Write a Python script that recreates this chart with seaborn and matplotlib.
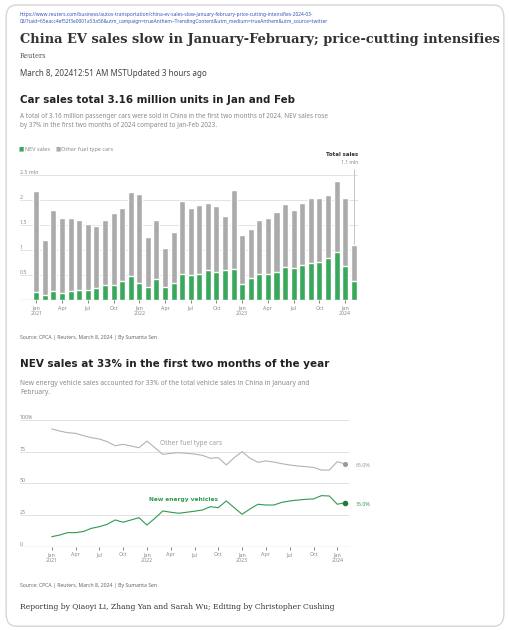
import numpy as np
import pandas as pd
import seaborn as sns
import matplotlib.pyplot as plt
from matplotlib.patches import FancyBboxPatch

# monthly passenger car sales, Jan 2021 - Feb 2024 (mln units)
months = pd.date_range("2021-01-01", "2024-02-01", freq="MS").strftime("%Y-%m").tolist()
total_sales = [2.19, 1.20, 1.80, 1.65, 1.65, 1.60, 1.52, 1.49, 1.60, 1.75, 1.85, 2.17,
               2.13, 1.27, 1.61, 1.05, 1.37, 1.99, 1.85, 1.91, 1.95, 1.88, 1.68, 2.20,
               1.30, 1.43, 1.61, 1.65, 1.77, 1.93, 1.80, 1.95, 2.05, 2.05, 2.11, 2.39,
               2.05, 1.10]
nev_sales = [0.17, 0.10, 0.19, 0.15, 0.19, 0.21, 0.21, 0.25, 0.31, 0.31, 0.38, 0.48,
             0.35, 0.27, 0.43, 0.27, 0.35, 0.52, 0.50, 0.52, 0.60, 0.57, 0.60, 0.63,
             0.32, 0.45, 0.53, 0.53, 0.57, 0.67, 0.65, 0.71, 0.75, 0.77, 0.85, 0.97,
             0.68, 0.39]

# share of total sales (%)
nev_share = [7.9, 9.2, 11.1, 11.1, 12.0, 14.5, 15.8, 17.7, 21.1, 19.3, 21.1, 22.9,
             17.1, 22.4, 28.2, 27.2, 26.4, 27.2, 28.0, 29.0, 31.6, 30.8, 36.1, 30.8,
             25.6, 29.8, 33.5, 32.9, 32.9, 35.0, 36.1, 36.8, 37.4, 37.7, 40.3, 40.0,
             33.5, 34.8]
other_share = [92.9, 91.3, 90.0, 89.5, 87.6, 86.0, 85.0, 82.9, 79.7, 80.8, 79.5, 78.1,
               83.4, 78.1, 72.9, 73.7, 74.2, 73.7, 73.1, 72.1, 69.8, 70.3, 64.5, 70.3,
               75.0, 69.8, 66.6, 67.7, 66.8, 65.5, 64.5, 63.7, 63.2, 62.6, 60.5, 60.5,
               67.1, 65.3]

tick_pos = list(range(0, 38, 3))
tick_labels = ["Jan\n2021", "Apr", "Jul", "Oct", "Jan\n2022", "Apr", "Jul", "Oct",
               "Jan\n2023", "Apr", "Jul", "Oct", "Jan\n2024"]

GREEN = "#3aa85a"
GRAY = "#ababab"
DARK = "#333333"
MUTED = "#8a8a8a"
GRID = "#e3e3e3"
SMALL = 3.8

sns.set_theme(style="white")
plt.rcParams["font.family"] = ["Noto Sans", "DejaVu Sans"]

fig = plt.figure(figsize=(5.1, 6.3), dpi=100)
W, H = 510, 630


def fy(y):
    return 1 - y / H


def fx(x):
    return x / W


fig.patches.append(FancyBboxPatch((0.012, 0.006), 0.976, 0.986,
                                  boxstyle="round,pad=0,rounding_size=0.02",
                                  transform=fig.transFigure, fill=False,
                                  ec="#d6d6d6", lw=1.0))

# header
fig.text(fx(20), fy(18), "https://www.reuters.com/business/autos-transportation/china-ev-sales-slow-january-february-price-cutting-intensifies-2024-03-\n"
         "08/?taid=65eacc4ef52f3e0001a53a56&utm_campaign=trueAnthem~TrendingContent&utm_medium=trueAnthem&utm_source=twitter",
         fontsize=3.5, color="#3355bb", va="center", linespacing=1.3)
fig.text(fx(20), fy(40), "China EV sales slow in January-February; price-cutting intensifies",
         family="DejaVu Serif", fontweight="bold", fontsize=9.4, color=DARK, va="center")
fig.text(fx(20), fy(56), "Reuters", family="DejaVu Serif", fontsize=4.8, color="#555555", va="center")
fig.text(fx(20), fy(73), "March 8, 202412:51 AM MSTUpdated 3 hours ago", fontsize=5.8, color="#444444", va="center")

# bar chart
fig.text(fx(20), fy(100), "Car sales total 3.16 million units in Jan and Feb",
         family="DejaVu Sans", fontweight="bold", fontsize=7.4, color="#222222", va="center")
fig.text(fx(20), fy(121), "A total of 3.16 million passenger cars were sold in China in the first two months of 2024. NEV sales rose\n"
         "by 37% in the first two months of 2024 compared to Jan-Feb 2023.",
         fontsize=4.6, color=MUTED, va="center", linespacing=1.4)
fig.text(fx(19), fy(149), "■", color=GREEN, fontsize=4.0, va="center")
fig.text(fx(25), fy(149), "NEV sales", color=MUTED, fontsize=4.0, va="center")
fig.text(fx(55), fy(149), "■", color=GRAY, fontsize=4.0, va="center")
fig.text(fx(61), fy(149), "Other fuel type cars", color=MUTED, fontsize=4.0, va="center")

ax1 = fig.add_axes([fx(20), fy(300), fx(358) - fx(20), fy(175) - fy(300)])
bars = pd.DataFrame({"month": months, "total": total_sales, "nev": nev_sales})
sns.barplot(data=bars, x="month", y="total", color=GRAY, width=0.7, saturation=1, ax=ax1)
sns.barplot(data=bars, x="month", y="nev", color=GREEN, width=0.7, saturation=1, ax=ax1)
ax1.set_xlim(-1.9, 37.5)
ax1.set_ylim(0, 2.5)
ax1.set_yticks([0.5, 1, 1.5, 2, 2.5])
ax1.set_yticklabels(["0.5", "1", "1.5", "2", "2.5 mln"])
for y in [0.5, 1, 1.5, 2, 2.5]:
    ax1.axhline(y, color=GRID, lw=0.7, zorder=0)
ax1.axhline(0, color="#555555", lw=0.8)
ax1.set_xticks(tick_pos)
ax1.set_xticklabels(tick_labels)
ax1.set_xlabel("")
ax1.set_ylabel("")
ax1.tick_params(axis="y", length=0, pad=0, labelsize=SMALL, labelcolor=MUTED)
ax1.tick_params(axis="x", length=2, width=0.5, color="#555555", pad=2, labelsize=SMALL, labelcolor=MUTED)
ax1.xaxis.set_ticks_position("bottom")
for lbl in ax1.get_yticklabels():
    lbl.set_ha("left")
    lbl.set_va("bottom")
sns.despine(ax=ax1, left=True, bottom=True)
ax1.plot([37, 37], [total_sales[-1] + 0.03, 2.62], color="#bbbbbb", lw=0.6, clip_on=False)
ax1.text(37.5, 2.9, "Total sales", ha="right", va="center", fontsize=3.9,
         family="DejaVu Sans", fontweight="bold", color=DARK)
ax1.text(37.5, 2.74, "1.1 mln", ha="right", va="center", fontsize=3.6, color=MUTED)

fig.text(fx(20), fy(337), "Source: CPCA | Reuters, March 8, 2024 | By Sumanta Sen", fontsize=3.7, color="#666666", va="center")

# line chart
fig.text(fx(20), fy(364), "NEV sales at 33% in the first two months of the year",
         family="DejaVu Sans", fontweight="bold", fontsize=7.5, color="#222222", va="center")
fig.text(fx(20), fy(388), "New energy vehicle sales accounted for 33% of the total vehicle sales in China in January and\n"
         "February.", fontsize=4.8, color=MUTED, va="center", linespacing=1.4)

ax2 = fig.add_axes([fx(20), fy(546.7), fx(350) - fx(20), fy(420) - fy(546.7)])
idx = np.arange(len(months))
sns.lineplot(x=idx, y=other_share, color="#b3b3b3", lw=0.8, ax=ax2)
sns.lineplot(x=idx, y=nev_share, color="#2f9a4e", lw=0.8, ax=ax2)
ax2.scatter([idx[-1]], [other_share[-1]], s=7, color="#9a9a9a", zorder=5)
ax2.scatter([idx[-1]], [nev_share[-1]], s=9, color="#1f7a3c", zorder=5)
ax2.set_xlim(-4, 37.6)
ax2.set_ylim(0, 100)
ax2.set_yticks([0, 25, 50, 75, 100])
ax2.set_yticklabels(["0", "25", "50", "75", "100%"])
for y in [25, 50, 75, 100]:
    ax2.axhline(y, color=GRID, lw=0.7, zorder=0)
ax2.axhline(0, color="#555555", lw=0.8)
ax2.set_xticks(tick_pos)
ax2.set_xticklabels(tick_labels)
ax2.tick_params(axis="y", length=0, pad=0, labelsize=SMALL, labelcolor=MUTED)
ax2.tick_params(axis="x", length=2, width=0.5, color="#555555", pad=2, labelsize=SMALL, labelcolor=MUTED)
ax2.xaxis.set_ticks_position("bottom")
for lbl in ax2.get_yticklabels():
    lbl.set_ha("left")
    lbl.set_va("bottom")
sns.despine(ax=ax2, left=True, bottom=True)
ax2.text(17.6, 81.8, "Other fuel type cars", ha="center", va="center", fontsize=4.8, color="#a0a0a0")
ax2.text(16.6, 37.5, "New energy vehicles", ha="center", va="center", fontsize=4.2,
         family="DejaVu Sans", fontweight="bold", color="#2f9a4e")
ax2.text(38.3, 64.0, "65.0%", ha="left", va="center", fontsize=3.8, color="#9a9a9a", clip_on=False)
ax2.text(38.3, 33.5, "35.0%", ha="left", va="center", fontsize=3.8, color="#2f9a4e", clip_on=False)

fig.text(fx(20), fy(586), "Source: CPCA | Reuters, March 8, 2024 | By Sumanta Sen", fontsize=3.7, color="#666666", va="center")
fig.text(fx(20), fy(607), "Reporting by Qiaoyi Li, Zhang Yan and Sarah Wu; Editing by Christopher Cushing",
         family="DejaVu Serif", fontsize=5.5, color="#333333", va="center")

fig.savefig("out.png", dpi=100, facecolor="white")
